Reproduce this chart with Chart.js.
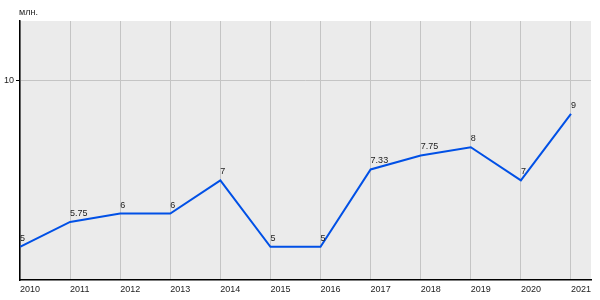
<!DOCTYPE html>
<html>
<head>
<meta charset="utf-8">
<script src="https://cdn.jsdelivr.net/npm/chart.js@4/dist/chart.umd.min.js"></script>
<style>
  html, body { margin: 0; padding: 0; background: #fff; }
  #wrap { width: 600px; height: 300px; }
</style>
</head>
<body>
<div id="wrap"><canvas id="chart"></canvas></div>
<script>
const years = [2010, 2011, 2012, 2013, 2014, 2015, 2016, 2017, 2018, 2019, 2020, 2021];
const values = [5, 5.75, 6, 6, 7, 5, 5, 7.33, 7.75, 8, 7, 9];
const yTicks = [10];
const unitLabel = 'млн.';

const FONT = '"Liberation Sans", Arial, sans-serif';
const FSIZE = 9;

// серый фон области графика + подпись единиц
const plotBg = {
  id: 'plotBg',
  beforeDraw(chart) {
    const { ctx, chartArea: a } = chart;
    ctx.save();
    ctx.fillStyle = '#ebebeb';
    ctx.fillRect(a.left, a.top, a.right - a.left, a.bottom - a.top);
    ctx.fillStyle = '#222';
    ctx.font = FSIZE + 'px ' + FONT;
    ctx.textAlign = 'left';
    ctx.textBaseline = 'middle';
    ctx.fillText(unitLabel, a.left - 1, 13);
    ctx.restore();
  }
};

// подписи значений над точками
const pointLabels = {
  id: 'pointLabels',
  afterDatasetsDraw(chart) {
    const { ctx } = chart;
    const meta = chart.getDatasetMeta(0);
    ctx.save();
    ctx.fillStyle = '#222';
    ctx.font = FSIZE + 'px ' + FONT;
    ctx.textAlign = 'left';
    ctx.textBaseline = 'alphabetic';
    meta.data.forEach((p, i) => {
      ctx.fillText(String(values[i]), p.x, p.y - 6);
    });
    ctx.restore();
  }
};

new Chart(document.getElementById('chart'), {
  type: 'line',
  data: {
    datasets: [{
      data: years.map((y, i) => ({ x: y, y: values[i] })),
      borderColor: '#0050e6',
      borderWidth: 2,
      pointRadius: 0,
      tension: 0,
      fill: false
    }]
  },
  options: {
    responsive: true,
    maintainAspectRatio: false,
    animation: false,
    layout: { padding: { top: 21, right: 9, left: 0, bottom: 0 } },
    plugins: {
      legend: { display: false },
      tooltip: { enabled: false }
    },
    scales: {
      x: {
        type: 'linear',
        min: 2010,
        max: 2021.4,
        afterBuildTicks: s => { s.ticks = years.map(v => ({ value: v })); },
        afterFit: s => { s.height = 20; },
        grid: { color: '#c4c4c4', lineWidth: 1, drawTicks: false },
        border: { color: '#000', width: 1.5 },
        ticks: {
          padding: 4,
          align: 'start',
          maxRotation: 0,
          autoSkip: false,
          color: '#222',
          font: { family: FONT, size: FSIZE },
          callback: v => String(v)
        }
      },
      y: {
        min: 4,
        max: 11.8,
        afterBuildTicks: s => { s.ticks = yTicks.map(v => ({ value: v })); },
        afterFit: s => { s.width = 20; },
        grid: { color: '#c4c4c4', lineWidth: 1, tickLength: 4, tickColor: '#000' },
        border: { color: '#000', width: 1.5 },
        ticks: {
          padding: 2,
          color: '#222',
          font: { family: FONT, size: FSIZE },
          callback: v => String(v)
        }
      }
    }
  },
  plugins: [plotBg, pointLabels]
});
</script>
</body>
</html>
